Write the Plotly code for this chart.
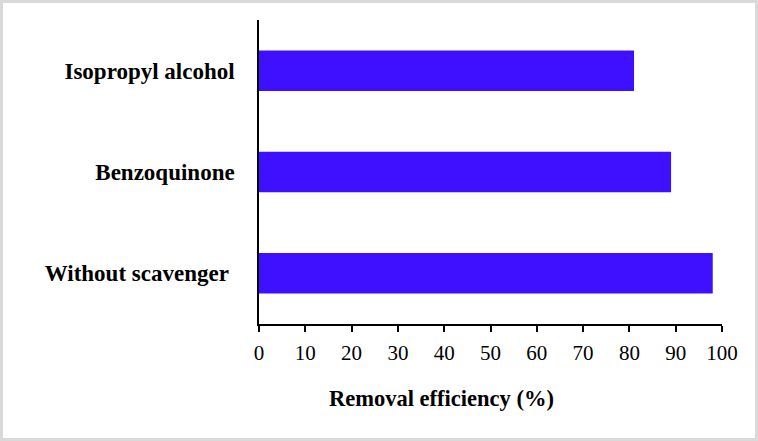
import plotly.graph_objects as go

# datos
categorias = ['Without scavenger\u00a0', 'Benzoquinone', 'Isopropyl alcohol']
eficiencia = [98, 89, 81]
ticks_x = [0, 10, 20, 30, 40, 50, 60, 70, 80, 90, 100]

W, H = 758, 441
ml, mr, mt, mb = 259, 36, 20, 117
pw = W - ml - mr
ph = H - mt - mb
fuente = 'Liberation Serif, Times New Roman, serif'

fig = go.Figure()
fig.add_trace(go.Bar(
    x=eficiencia,
    y=categorias,
    orientation='h',
    width=0.4,
    marker=dict(color='#3f0fff', line=dict(width=0)),
    showlegend=False
))

fig.update_layout(
    width=W, height=H,
    margin=dict(l=ml, r=mr, t=mt, b=mb),
    paper_bgcolor='white',
    plot_bgcolor='white',
    font=dict(family=fuente, color='black'),
    xaxis=dict(
        range=[0, 100],
        tickvals=ticks_x,
        ticks='outside', ticklen=6, tickwidth=1.5, tickcolor='black',
        showline=True, linecolor='black', linewidth=1.5,
        showgrid=False, zeroline=False,
        tickfont=dict(size=21, family=fuente),
        ticklabelstandoff=3,
    ),
    yaxis=dict(
        range=[-0.5, 2.5],
        showline=True, linecolor='black', linewidth=1.5,
        showgrid=False, zeroline=False,
        ticks='',
        tickfont=dict(size=23, family=fuente, weight='bold'),
        ticklabelstandoff=18,
    ),
)

# titulo del eje x (desplazado a la izquierda como en el original)
fig.add_annotation(
    x=(441 - ml) / pw, y=-(398 - (H - mb)) / ph,
    xref='paper', yref='paper',
    text='Removal efficiency (%)',
    showarrow=False,
    font=dict(size=22.5, family=fuente, weight='bold'),
    xanchor='center', yanchor='middle'
)

# borde gris alrededor de la imagen
fig.add_shape(
    type='rect', xref='paper', yref='paper',
    x0=-ml / pw, x1=(W - ml) / pw,
    y0=-mb / ph, y1=(H - mb) / ph,
    line=dict(color='#d9d9d9', width=6),
    layer='below'
)

fig.write_html("out.html", config={'displayModeBar': False},
               post_script="document.body.style.margin='0';")
